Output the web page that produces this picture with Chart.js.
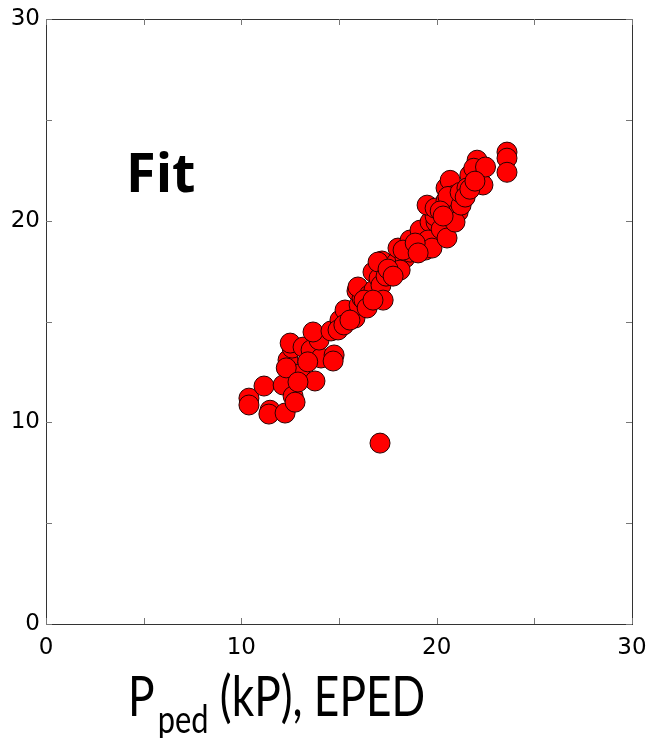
<!DOCTYPE html>
<html>
<head>
<meta charset="utf-8">
<script src="https://cdn.jsdelivr.net/npm/chart.js@4/dist/chart.umd.min.js"></script>
<style>
  html, body { margin: 0; padding: 0; background: #fff; }
  #wrap { width: 650px; height: 738px; }
</style>
</head>
<body>
<div id="wrap"><canvas id="scatter" width="650" height="738"></canvas></div>
<script>
// P_ped from EPED (x) vs fitted value (y)
var pedEped = [10.39, 10.39, 11.16, 11.47, 11.41, 12.24, 12.14, 12.65, 12.75, 12.39,
               12.6, 12.5, 13.0, 13.16, 13.57, 13.77, 14.08, 13.98, 13.67, 14.75,
               14.7, 14.59, 15.05, 14.95, 15.31, 15.82, 16.03, 15.92, 16.18, 15.97,
               16.54, 16.79, 16.74, 17.05, 17.15, 17.2, 17.26, 17.0, 17.41, 17.92,
               18.02, 18.38, 18.13, 18.64, 18.64, 19.25, 19.15, 19.41, 19.66, 19.56,
               19.76, 19.97, 19.92, 19.51, 19.92, 20.23, 20.53, 20.48, 20.48, 20.69,
               20.79, 20.94, 20.58, 21.1, 20.94, 21.25, 21.7, 22.07, 21.9, 22.2,
               22.37, 22.5, 23.6, 23.6, 23.6, 21.2, 21.55, 15.25, 15.56, 16.28,
               16.44, 16.74, 17.51, 17.77, 18.28, 18.9, 19.05, 20.18, 20.33, 21.46,
               21.7, 21.96, 12.3, 12.9, 13.4, 17.1];
var pedFit  = [11.2, 10.86, 11.8, 10.6, 10.41, 10.46, 11.85, 11.3, 11.0, 13.09,
               13.68, 13.93, 12.4, 13.73, 13.59, 12.05, 13.19, 14.08, 14.48, 13.34,
               13.04, 14.53, 15.07, 14.58, 15.57, 15.17, 15.82, 16.51, 16.16, 16.71,
               16.31, 16.56, 17.45, 17.15, 16.8, 18.0, 16.06, 17.95, 17.25, 17.9,
               18.64, 18.15, 17.55, 19.04, 18.44, 19.14, 19.53, 18.54, 19.93, 19.04,
               18.64, 19.93, 20.23, 20.77, 20.62, 19.58, 19.14, 21.0, 21.62, 22.0,
               20.48, 21.27, 21.2, 20.43, 19.93, 20.77, 22.26, 23.0, 22.6, 22.0,
               21.77, 22.66, 23.4, 23.1, 22.4, 21.4, 21.62, 14.83, 15.07, 16.06,
               15.67, 16.06, 17.6, 17.25, 18.54, 18.89, 18.4, 20.48, 20.23, 21.17,
               21.56, 21.96, 12.7, 12.0, 13.0, 8.97];

var axisTicks = [0, 5, 10, 15, 20, 25, 30];
var tickLabels = ['0', '', '10', '', '20', '', '30'];
var xTitle = 'P', xTitleSub = 'ped', xTitleRest = ' (kP), EPED';
var panelLabel = 'Fit';

var points = pedEped.map(function (x, i) { return {x: x, y: pedFit[i]}; });

function tickText(value) {
    var idx = axisTicks.indexOf(value);
    return idx >= 0 ? tickLabels[idx] : '';
}

// box frame with inward ticks on all four sides, plus the labels
var boxPlugin = {
    id: 'boxFrame',
    afterDraw: function (chart) {
        var ctx = chart.ctx, a = chart.chartArea;
        var xs = chart.scales.x, ys = chart.scales.y;
        ctx.save();
        ctx.strokeStyle = '#333';
        ctx.lineWidth = 1;
        ctx.strokeRect(a.left + 0.5, a.top + 0.5, a.right - a.left, a.bottom - a.top);
        ctx.strokeStyle = '#777';
        var len = 6;
        ctx.beginPath();
        axisTicks.forEach(function (v) {
            var px = Math.round(xs.getPixelForValue(v)) + 0.5;
            ctx.moveTo(px, a.bottom); ctx.lineTo(px, a.bottom - len);
            ctx.moveTo(px, a.top); ctx.lineTo(px, a.top + len);
            var py = Math.round(ys.getPixelForValue(v)) + 0.5;
            ctx.moveTo(a.left, py); ctx.lineTo(a.left + len, py);
            ctx.moveTo(a.right, py); ctx.lineTo(a.right - len, py);
        });
        ctx.stroke();

        // panel label
        ctx.fillStyle = '#000';
        ctx.textBaseline = 'alphabetic';
        ctx.textAlign = 'left';
        ctx.font = 'bold 54px "Open Sans"';
        ctx.fillText(panelLabel, 126, 192);

        // x title with subscript (squeezed to match the narrow original face)
        ctx.translate(128, 0);
        ctx.scale(0.79, 1);
        var x0 = 0;
        ctx.font = '56px Lato';
        ctx.fillText(xTitle, x0, 716);
        x0 += ctx.measureText(xTitle).width;
        ctx.font = '39px Lato';
        ctx.fillText(xTitleSub, x0 + 4, 733);
        x0 += ctx.measureText(xTitleSub).width + 4;
        ctx.font = '56px Lato';
        ctx.fillText(xTitleRest, x0, 716);
        ctx.restore();
    }
};

var ctx = document.getElementById('scatter').getContext('2d');
var chart = new Chart(ctx, {
    type: 'scatter',
    data: {
        datasets: [{
            data: points,
            backgroundColor: '#ff0000',
            borderColor: '#2a0000',
            borderWidth: 1,
            pointRadius: 10,
            pointHoverRadius: 10
        }]
    },
    options: {
        responsive: false,
        animation: false,
        events: [],
        layout: {padding: {left: 0, right: 18, top: 19, bottom: 0}},
        plugins: {legend: {display: false}, tooltip: {enabled: false}},
        scales: {
            x: {
                type: 'linear', min: 0, max: 30,
                afterFit: function (s) { s.height = 114; s.paddingLeft = 0; s.paddingRight = 0; },
                grid: {display: false, drawTicks: false},
                border: {display: false},
                ticks: {
                    stepSize: 5, padding: 10, color: '#000', maxRotation: 0,
                    font: {family: 'DejaVu Sans', size: 23},
                    callback: function (v) { return tickText(v); }
                }
            },
            y: {
                type: 'linear', min: 0, max: 30,
                afterFit: function (s) { s.width = 46; s.paddingTop = 0; s.paddingBottom = 0; },
                grid: {display: false, drawTicks: false},
                border: {display: false},
                ticks: {
                    stepSize: 5, padding: 6, color: '#000',
                    font: {family: 'DejaVu Sans', size: 23},
                    callback: function (v) { return tickText(v); }
                }
            }
        }
    },
    plugins: [boxPlugin]
});
</script>
</body>
</html>
